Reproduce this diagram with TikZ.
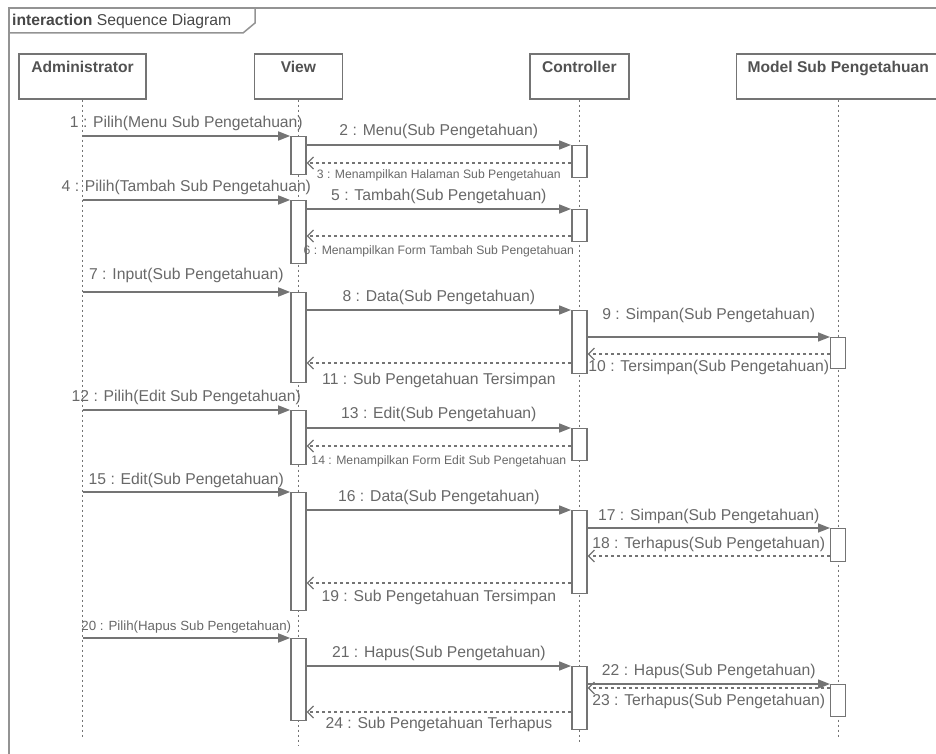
\documentclass[tikz,border=0pt]{standalone}
\usepackage{fontspec}
\setmainfont{Liberation Sans}
\usetikzlibrary{positioning,arrows.meta}
\definecolor{ln}{HTML}{747474}
\definecolor{txt}{HTML}{686868}
\definecolor{frm}{HTML}{939393}

\begin{document}
\begin{tikzpicture}[x=1pt, y=1pt, font=\fontsize{15.7}{18}\selectfont, text=txt,
  head/.style={draw=ln, line width=1.4pt, fill=white, text=black!68, font=\fontsize{15.6}{18}\selectfont\bfseries, minimum height=45pt, text height=11pt, text depth=18pt, inner ysep=8pt, inner xsep=0pt},
  act/.style={draw=ln, line width=1.4pt, fill=white, minimum width=15pt, inner sep=0pt, anchor=north},
  life/.style={draw=ln, line width=0.9pt, dash pattern=on 2.5pt off 2.5pt},
  call/.style={draw=ln, line width=1.6pt, -{Triangle[length=12pt,width=9pt]}},
  ret/.style={draw=ln, line width=1.3pt, dash pattern=on 3pt off 3pt, -{Straight Barb[length=6pt,width=12pt,line width=1.3pt]}},
  small/.style={font=\fontsize{12.2}{14}\selectfont},
  lbl/.style={inner sep=0pt, midway}]
  \useasboundingbox (0,0) rectangle (936,-754);
  \draw[frm, line width=1.5pt] (9,-8) rectangle (942,-762);
  \draw[frm, line width=1.5pt] (9,-33) -- (243,-33) -- (255,-23) -- (255,-8);
  \node[anchor=west, inner sep=0pt, text=black!72] (title) at (12,-21) {\textbf{interaction} Sequence Diagram};

  \node[head, minimum width=127pt] (admin) at (82.5,-76.5) {Administrator};
  \node[head, minimum width=88pt, right=107pt of admin] (view) {View};
  \node[head, minimum width=99pt, right=186pt of view] (ctrl) {Controller};
  \node[head, minimum width=204pt, right=106pt of ctrl] (model) {Model Sub Pengetahuan};

  \draw[life] (admin.south) -- (admin |- 0,-738);
  \draw[life] (view.south) -- (view |- 0,-745);
  \draw[life] (ctrl.south) -- (ctrl |- 0,-743);
  \draw[life] (model.south) -- (model |- 0,-738);

  \node[act, minimum height=38pt] (va1) at (view |- 0,-136) {};
  \node[act, minimum height=63pt] (va2) at (view |- 0,-200) {};
  \node[act, minimum height=90pt] (va3) at (view |- 0,-292) {};
  \node[act, minimum height=54pt] (va4) at (view |- 0,-410) {};
  \node[act, minimum height=118pt] (va5) at (view |- 0,-492) {};
  \node[act, minimum height=82pt] (va6) at (view |- 0,-638) {};
  \node[act, minimum height=32pt] (ca1) at (ctrl |- 0,-145) {};
  \node[act, minimum height=32pt] (ca2) at (ctrl |- 0,-209) {};
  \node[act, minimum height=63pt] (ca3) at (ctrl |- 0,-310) {};
  \node[act, minimum height=32pt] (ca4) at (ctrl |- 0,-428) {};
  \node[act, minimum height=83pt] (ca5) at (ctrl |- 0,-510) {};
  \node[act, minimum height=63pt] (ca6) at (ctrl |- 0,-666) {};
  \node[act, minimum height=31pt] (ma1) at (model |- 0,-337) {};
  \node[act, minimum height=33pt] (ma2) at (model |- 0,-528) {};
  \node[act, minimum height=32pt] (ma3) at (model |- 0,-684) {};

  \draw[call] (admin |- va1.north) -- (va1.north west) node[lbl, above=4pt] {1 : Pilih(Menu Sub Pengetahuan)};
  \draw[call] (va1.east |- ca1.north) -- (ca1.north west) node[lbl, above=5pt] {2 : Menu(Sub Pengetahuan)};
  \draw[ret] (ca1.west |- 0,-163) -- (va1.east |- 0,-163) node[lbl, small, below=6.5pt] {3 : Menampilkan Halaman Sub Pengetahuan};
  \draw[call] (admin |- va2.north) -- (va2.north west) node[lbl, above=4pt] {4 : Pilih(Tambah Sub Pengetahuan)};
  \draw[call] (va2.east |- ca2.north) -- (ca2.north west) node[lbl, above=4pt] {5 : Tambah(Sub Pengetahuan)};
  \draw[ret] (ca2.west |- 0,-236) -- (va2.east |- 0,-236) node[lbl, small, below=9.5pt] {6 : Menampilkan Form Tambah Sub Pengetahuan};
  \draw[call] (admin |- va3.north) -- (va3.north west) node[lbl, above=8pt] {7 : Input(Sub Pengetahuan)};
  \draw[call] (va3.east |- ca3.north) -- (ca3.north west) node[lbl, above=4pt] {8 : Data(Sub Pengetahuan)};
  \draw[call] (ca3.east |- ma1.north) -- (ma1.north west) node[lbl, above=13pt] {9 : Simpan(Sub Pengetahuan)};
  \draw[ret] (ma1.west |- 0,-354) -- (ca3.east |- 0,-354) node[lbl, below=5pt] {10 : Tersimpan(Sub Pengetahuan)};
  \draw[ret] (ca3.west |- 0,-363) -- (va3.east |- 0,-363) node[lbl, below=9pt] {11 : Sub Pengetahuan Tersimpan};
  \draw[call] (admin |- va4.north) -- (va4.north west) node[lbl, above=4pt] {12 : Pilih(Edit Sub Pengetahuan)};
  \draw[call] (va4.east |- ca4.north) -- (ca4.north west) node[lbl, above=5pt] {13 : Edit(Sub Pengetahuan)};
  \draw[ret] (ca4.west |- 0,-446) -- (va4.east |- 0,-446) node[lbl, small, below=9.5pt] {14 : Menampilkan Form Edit Sub Pengetahuan};
  \draw[call] (admin |- va5.north) -- (va5.north west) node[lbl, above=3pt] {15 : Edit(Sub Pengetahuan)};
  \draw[call] (va5.east |- ca5.north) -- (ca5.north west) node[lbl, above=4pt] {16 : Data(Sub Pengetahuan)};
  \draw[call] (ca5.east |- ma2.north) -- (ma2.north west) node[lbl, above=3pt] {17 : Simpan(Sub Pengetahuan)};
  \draw[ret] (ma2.west |- 0,-556) -- (ca5.east |- 0,-556) node[lbl, above=4pt] {18 : Terhapus(Sub Pengetahuan)};
  \draw[ret] (ca5.west |- 0,-583) -- (va5.east |- 0,-583) node[lbl, below=6pt] {19 : Sub Pengetahuan Tersimpan};
  \draw[call] (admin |- va6.north) -- (va6.north west) node[lbl, above=4pt, font=\fontsize{13.3}{15}\selectfont] {20 : Pilih(Hapus Sub Pengetahuan)};
  \draw[call] (va6.east |- ca6.north) -- (ca6.north west) node[lbl, above=4pt] {21 : Hapus(Sub Pengetahuan)};
  \draw[call] (ca6.east |- ma3.north) -- (ma3.north west) node[lbl, above=4pt] {22 : Hapus(Sub Pengetahuan)};
  \draw[ret] (ma3.west |- 0,-688) -- (ca6.east |- 0,-688) node[lbl, below=5pt] {23 : Terhapus(Sub Pengetahuan)};
  \draw[ret] (ca6.west |- 0,-712) -- (va6.east |- 0,-712) node[lbl, below=4pt] {24 : Sub Pengetahuan Terhapus};
\end{tikzpicture}
\end{document}
